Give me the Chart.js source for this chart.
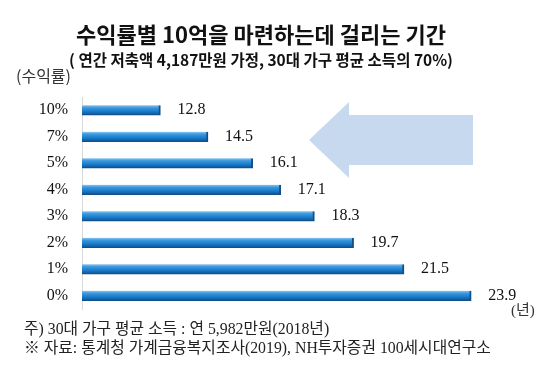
<!DOCTYPE html>
<html>
<head>
<meta charset="utf-8">
<script src="https://cdn.jsdelivr.net/npm/chart.js@4"></script>
<style>
  html, body { margin: 0; padding: 0; background: #fff; }
  #wrap { width: 549px; height: 372px; }
</style>
</head>
<body>
<div id="wrap"><canvas id="chart" width="549" height="372"></canvas></div>
<script>
const rates = ["10%", "7%", "5%", "4%", "3%", "2%", "1%", "0%"];
const years = [12.8, 14.5, 16.1, 17.1, 18.3, 19.7, 21.5, 23.9];
const axisMin = 10;
const axisMax = 25;

const titleText = "수익률별 10억을 마련하는데 걸리는 기간";
const subtitleText = "( 연간 저축액 4,187만원 가정, 30대 가구 평균 소득의 70%)";
const notes = [
  "주) 30대 가구 평균 소득 : 연 5,982만원(2018년)",
  "※ 자료: 통계청 가계금융복지조사(2019), NH투자증권 100세시대연구소",
];

const serif = '"Liberation Serif", "Noto Sans CJK KR", serif';
const sans = '"Noto Sans CJK KR", sans-serif';

function barFill(context) {
  const chart = context.chart;
  const yScale = chart.scales.y;
  if (!yScale || context.dataIndex === undefined) return "#1a7ccc";
  const y = yScale.getPixelForValue(context.dataIndex);
  if (!Number.isFinite(y)) return "#1a7ccc";
  const g = chart.ctx.createLinearGradient(0, y - 5, 0, y + 5);
  g.addColorStop(0, "#8cc6ee");
  g.addColorStop(0.25, "#3a98dc");
  g.addColorStop(0.6, "#1a7ccc");
  g.addColorStop(1, "#0d4f8e");
  return g;
}

// big pale arrow pointing left
const arrowPlugin = {
  id: "arrow",
  beforeDatasetsDraw(chart) {
    const ctx = chart.ctx;
    ctx.save();
    ctx.fillStyle = "#c6d9ef";
    ctx.beginPath();
    ctx.moveTo(309, 140);
    ctx.lineTo(349, 102);
    ctx.lineTo(349, 115);
    ctx.lineTo(473, 115);
    ctx.lineTo(473, 165);
    ctx.lineTo(349, 165);
    ctx.lineTo(349, 178);
    ctx.closePath();
    ctx.fill();
    ctx.restore();
  },
};

const textPlugin = {
  id: "texts",
  afterDraw(chart) {
    const ctx = chart.ctx;
    ctx.save();
    ctx.textBaseline = "middle";

    // value labels
    const meta = chart.getDatasetMeta(0);
    ctx.font = "16px " + serif;
    ctx.fillStyle = "#111";
    ctx.textAlign = "left";
    meta.data.forEach((bar, i) => {
      ctx.fillText(years[i].toFixed(1), bar.x + 17, bar.y);
    });

    // title + subtitle
    ctx.textAlign = "center";
    ctx.fillStyle = "#111";
    ctx.font = "bold 22px " + sans;
    ctx.fillText(titleText, 261, 35);
    ctx.font = "bold 15.5px " + sans;
    ctx.fillText(subtitleText, 261, 60);

    // axis unit labels
    ctx.textAlign = "left";
    ctx.fillStyle = "#333";
    ctx.font = "16px " + sans;
    ctx.fillText("(수익률)", 16, 76);
    ctx.font = "15px " + serif;
    ctx.fillText("(년)", 511, 311);

    // footnotes
    ctx.font = "15.8px " + serif;
    ctx.fillStyle = "#222";
    ctx.fillText(notes[0], 24, 330);
    ctx.fillText(notes[1], 24, 349);
    ctx.restore();
  },
};

new Chart(document.querySelector("#chart"), {
  type: "bar",
  data: {
    labels: rates,
    datasets: [
      {
        data: years,
        backgroundColor: barFill,
        borderColor: "#124f86",
        borderWidth: { top: 0, bottom: 1, left: 0, right: 2 },
        borderSkipped: "start",
        barThickness: 10,
      },
    ],
  },
  plugins: [arrowPlugin, textPlugin],
  options: {
    indexAxis: "y",
    responsive: false,
    animation: false,
    layout: {
      padding: { top: 97, bottom: 63, left: 0, right: 47 },
    },
    plugins: {
      legend: { display: false },
      tooltip: { enabled: false },
    },
    scales: {
      x: {
        display: false,
        min: axisMin,
        max: axisMax,
      },
      y: {
        afterFit(scale) {
          scale.width = 82;
        },
        grid: { display: false, drawTicks: false },
        border: { display: true, color: "#d9d9d9", width: 1 },
        ticks: {
          padding: 14,
          color: "#111",
          font: { family: serif, size: 16 },
        },
      },
    },
  },
});
</script>
</body>
</html>
